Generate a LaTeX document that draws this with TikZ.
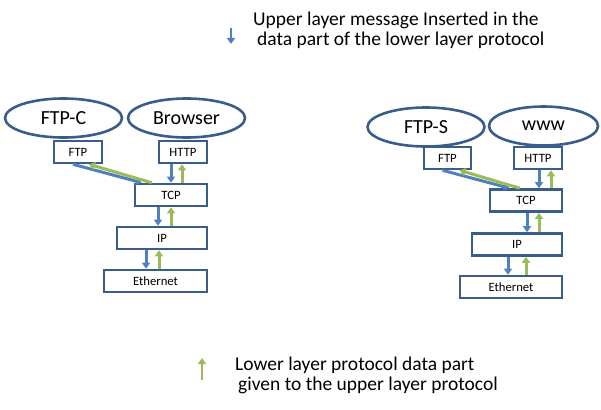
\documentclass[tikz,border=0pt]{standalone}
\usepackage{fontspec}
\setmainfont{Carlito}
\usepackage{tikz}
\usetikzlibrary{arrows.meta, shapes.geometric}
\usepackage{xcolor}
\definecolor{boxblue}{HTML}{385D8A}
\definecolor{downblue}{HTML}{4F81BD}
\definecolor{upgreen}{HTML}{9BBB59}
\tikzset{%
	app node/.style={
		ellipse,
		draw=boxblue,
		line width=2.6pt,
		fill=white,
		minimum width=117pt,
		minimum height=39pt,
		inner sep=0pt,
		font=\fontsize{20}{24}\selectfont
	},
	layer node/.style={
		rectangle,
		draw=boxblue,
		line width=2.6pt,
		fill=white,
		minimum height=22pt,
		inner sep=0pt,
		font=\fontsize{12.7}{14}\selectfont
	},
	down msg/.style={
		draw=downblue,
		line width=3pt,
		-{Triangle[width=8pt,length=6pt]}
	},
	up msg/.style={
		draw=upgreen,
		line width=3pt,
		-{Triangle[width=8pt,length=6pt]}
	},
	legend text/.style={
		align=left,
		anchor=north west,
		inner sep=0pt,
		font=\fontsize{19.5}{20}\selectfont
	},
}

\begin{document}
\begin{tikzpicture}[x=1pt, y=-1pt]
			\useasboundingbox (0,0) rectangle (601,409);

			% Left host: applications
			\node[app node] (ftpc) at (63.5,118) {FTP-C};
			\node[app node] (browser) at (186.5,118) {Browser};

			% Left host: protocol stack
			\node[layer node, minimum width=48pt] (ftpL) at (78,152) {FTP};
			\node[layer node, minimum width=48pt] (httpL) at (183,152) {HTTP};
			\node[layer node, minimum width=72pt] (tcpL) at (171,195) {TCP};
			\node[layer node, minimum width=90pt] (ipL) at (162,238) {IP};
			\node[layer node, minimum width=103pt] (ethL) at (155.5,281) {Ethernet};

			% Right host: applications
			\node[app node] (ftps) at (426,127) {FTP-S};
			\node[app node, minimum width=109pt] (www) at (543.5,126) {www};

			% Right host: protocol stack
			\node[layer node, minimum width=47pt] (ftpR) at (447.5,158) {FTP};
			\node[layer node, minimum width=48pt] (httpR) at (538,158) {HTTP};
			\node[layer node, minimum width=72pt] (tcpR) at (526,200.5) {TCP};
			\node[layer node, minimum width=90pt] (ipR) at (517,244.5) {IP};
			\node[layer node, minimum width=102pt] (ethR) at (511,287) {Ethernet};

			% Left host: arrows between layers
			\draw[down msg] ([xshift=-5pt]ftpL.south) -- ([xshift=8pt]tcpL.north west);
			\draw[up msg] ([xshift=18pt]tcpL.north west) -- ([xshift=11pt]ftpL.south);
			\draw[down msg] ([xshift=-12pt]httpL.south) -- ([xshift=-12pt]httpL.south |- tcpL.north);
			\draw[up msg] ([xshift=-1pt]httpL.south |- tcpL.north) -- ([xshift=-1pt]httpL.south);
			\draw[down msg] ([xshift=-13pt]tcpL.south) -- ([xshift=-13pt]tcpL.south |- ipL.north);
			\draw[up msg] (tcpL.south |- ipL.north) -- (tcpL.south);
			\draw[down msg] ([xshift=-16pt]ipL.south) -- ([xshift=-16pt]ipL.south |- ethL.north);
			\draw[up msg] ([xshift=-3pt]ipL.south |- ethL.north) -- ([xshift=-3pt]ipL.south);

			% Right host: arrows between layers
			\draw[down msg] ([xshift=-5pt]ftpR.south) -- ([xshift=21pt]tcpR.north west);
			\draw[up msg] ([xshift=31pt]tcpR.north west) -- ([xshift=12pt]ftpR.south);
			\draw[down msg] ([xshift=1pt]httpR.south) -- ([xshift=1pt]httpR.south |- tcpR.north);
			\draw[up msg] ([xshift=13pt]httpR.south |- tcpR.north) -- ([xshift=13pt]httpR.south);
			\draw[down msg] ([xshift=1pt]tcpR.south) -- ([xshift=1pt]tcpR.south |- ipR.north);
			\draw[up msg] ([xshift=13pt]tcpR.south |- ipR.north) -- ([xshift=13pt]tcpR.south);
			\draw[down msg] ([xshift=-9pt]ipR.south) -- ([xshift=-9pt]ipR.south |- ethR.north);
			\draw[up msg] ([xshift=9pt]ipR.south |- ethR.north) -- ([xshift=9pt]ipR.south);

			% Legend
			\coordinate (downstart) at (231,28);
			\coordinate (downend) at (231,44);
			\draw[down msg, line width=2.4pt] (downstart) -- (downend);
			\node[legend text] (downtext) at (253,12) {Upper layer message Inserted in the\\\hspace*{4pt}data part of the lower layer protocol};

			\coordinate (upstart) at (202,380);
			\coordinate (upend) at (202,358);
			\draw[up msg, line width=2.4pt] (upstart) -- (upend);
			\node[legend text] (uptext) at (235,357) {Lower layer protocol data part\\\hspace*{3pt}given to the upper layer protocol};

		\end{tikzpicture}
\end{document}
